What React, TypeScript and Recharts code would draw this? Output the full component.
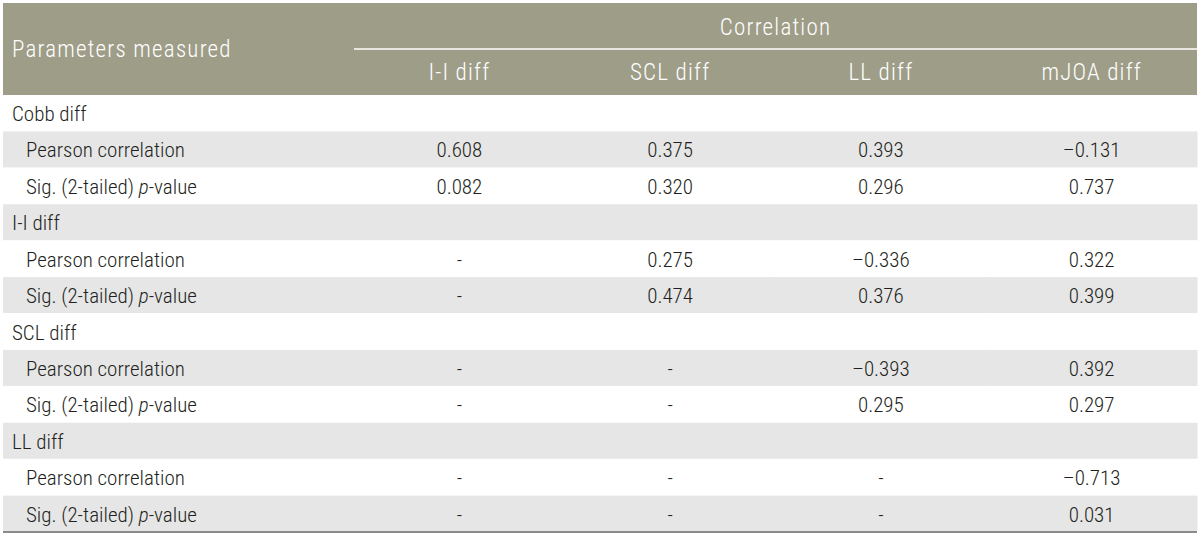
import { BarChart, Bar, XAxis, YAxis } from "recharts";

const rowLabels = [
  "Cobb diff", "Pearson correlation", "Sig. (2-tailed) p-value",
  "I-I diff", "Pearson correlation", "Sig. (2-tailed) p-value",
  "SCL diff", "Pearson correlation", "Sig. (2-tailed) p-value",
  "LL diff", "Pearson correlation", "Sig. (2-tailed) p-value",
];
const groupRows = [true, false, false, true, false, false, true, false, false, true, false, false];
const columns = ["I-I diff", "SCL diff", "LL diff", "mJOA diff"];
const iiDiff = ["", "0.608", "0.082", "", "-", "-", "", "-", "-", "", "-", "-"];
const sclDiff = ["", "0.375", "0.320", "", "0.275", "0.474", "", "-", "-", "", "-", "-"];
const llDiff = ["", "0.393", "0.296", "", "–0.336", "0.376", "", "–0.393", "0.295", "", "-", "-"];
const mjoaDiff = ["", "–0.131", "0.737", "", "0.322", "0.399", "", "0.392", "0.297", "", "–0.713", "0.031"];

const W = 1200;
const H = 536;
const HEAD_TOP = 3;
const HEAD_H = 92;
const LABEL_W = 351;
const COL_W = 210.75;
const TOTAL = LABEL_W + COL_W * 4;

const HEAD_FILL = "#9e9d88";
const GREY = "#e6e6e6";
const INK = "#231f20";
const FONT = "'Liberation Sans Narrow', 'Roboto Condensed', 'DejaVu Sans Condensed', 'Liberation Sans', sans-serif";
const BODY_SIZE = 21;

const rows = rowLabels.map((label, i) => ({
  row: i,
  label,
  group: groupRows[i],
  c0: iiDiff[i],
  c1: sclDiff[i],
  c2: llDiff[i],
  c3: mjoaDiff[i],
}));

const headTicks = [LABEL_W / 2, ...columns.map((_, i) => LABEL_W + COL_W * (i + 0.5))];

const bandFill = (i: number) => (i % 2 === 1 ? GREY : "#ffffff");

function RowLabel(text: string) {
  const m = text.split(" p-value");
  if (m.length < 2) return text;
  return (
    <>
      <tspan>{m[0] + " "}</tspan>
      <tspan fontStyle="italic">p</tspan>
      <tspan>-value</tspan>
    </>
  );
}

function labelShape(props: any) {
  const { x, y, width, height, payload } = props;
  const indent = payload.group ? 9 : 23;
  return (
    <g>
      <rect x={x} y={y} width={width + 0.5} height={height} fill={bandFill(payload.row)} />
      <text x={x + indent} y={y + height / 2 + 8} fill={INK} fontSize={BODY_SIZE} fontWeight={300} fontFamily={FONT}>
        {RowLabel(payload.label)}
      </text>
    </g>
  );
}

const valueShape = (key: string) => (props: any) => {
  const { x, y, width, height, payload } = props;
  return (
    <g>
      <rect x={x} y={y} width={width + 0.5} height={height} fill={bandFill(payload.row)} />
      <text
        x={x + width / 2}
        y={y + height / 2 + 8}
        fill={INK}
        fontSize={BODY_SIZE}
        fontWeight={300}
        fontFamily={FONT}
        textAnchor="middle"
      >
        {payload[key]}
      </text>
    </g>
  );
};

function HeaderTick(props: any) {
  const { x, index } = props;
  const headText = { fill: "#ffffff", fontSize: 23, fontWeight: 300, fontFamily: FONT, letterSpacing: 1.2 };
  if (index === 0) {
    // one background for the whole header, drawn first
    return (
      <g>
        <rect x={x - LABEL_W / 2} y={HEAD_TOP} width={TOTAL} height={HEAD_H} fill={HEAD_FILL} />
        <text x={x - LABEL_W / 2 + 9} y={57} {...headText}>Parameters measured</text>
      </g>
    );
  }
  const last = index === columns.length;
  return (
    <g>
      <text x={x} y={80} textAnchor="middle" {...headText}>{columns[index - 1]}</text>
      {last && (
        <>
          <line x1={x + COL_W / 2 - COL_W * 4} x2={x + COL_W / 2} y1={49} y2={49} stroke="#ffffff" strokeWidth={1.5} />
          <text x={x - COL_W * 1.5} y={35} textAnchor="middle" {...headText}>Correlation</text>
        </>
      )}
    </g>
  );
}

export default function App() {
  return (
    <div style={{ position: "absolute", left: 0, top: 0, background: "#ffffff" }}>
      <BarChart
        width={W}
        height={H}
        data={rows}
        layout="vertical"
        margin={{ top: HEAD_TOP, right: 3, bottom: 3, left: 3 }}
        barCategoryGap={0}
        barGap={0}
      >
        <XAxis
          xAxisId="head"
          orientation="top"
          type="number"
          domain={[0, TOTAL]}
          ticks={headTicks}
          interval={0}
          height={HEAD_H}
          axisLine={false}
          tickLine={false}
          tick={<HeaderTick />}
        />
        <XAxis
          xAxisId="base"
          orientation="bottom"
          type="number"
          domain={[0, TOTAL]}
          height={1}
          tick={false}
          tickLine={false}
          axisLine={{ stroke: "#8a8a8a", strokeWidth: 2 }}
        />
        <YAxis type="category" dataKey="row" hide />
        <Bar xAxisId="head" stackId="t" dataKey={() => LABEL_W} shape={labelShape} isAnimationActive={false} />
        <Bar xAxisId="head" stackId="t" dataKey={() => COL_W} shape={valueShape("c0")} isAnimationActive={false} />
        <Bar xAxisId="head" stackId="t" dataKey={() => COL_W} shape={valueShape("c1")} isAnimationActive={false} />
        <Bar xAxisId="head" stackId="t" dataKey={() => COL_W} shape={valueShape("c2")} isAnimationActive={false} />
        <Bar xAxisId="head" stackId="t" dataKey={() => COL_W} shape={valueShape("c3")} isAnimationActive={false} />
      </BarChart>
    </div>
  );
}
